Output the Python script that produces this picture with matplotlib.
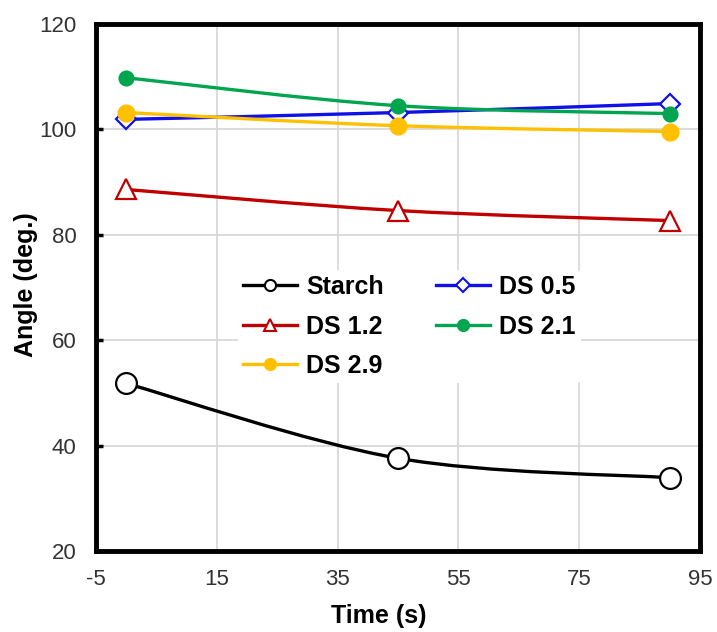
import matplotlib.pyplot as plt
import numpy as np
from matplotlib.path import Path
from matplotlib.patches import PathPatch

plt.rcParams['font.family'] = ['Liberation Sans', 'DejaVu Sans']
plt.rcParams['axes.unicode_minus'] = False

time_s = [0, 45, 90]
starch = [51.8, 37.6, 33.9]
ds05 = [101.9, 103.2, 104.9]
ds12 = [88.6, 84.6, 82.7]
ds21 = [109.8, 104.5, 103.0]
ds29 = [103.2, 100.7, 99.6]


def smooth_path(x, y):
    # Excel-like smoothed line via cubic Bezier segments
    pts = np.column_stack([x, y]).astype(float)
    n = len(pts)
    verts = [pts[0]]
    codes = [Path.MOVETO]
    for i in range(n - 1):
        p0 = pts[i - 1] if i > 0 else pts[i]
        p1 = pts[i]
        p2 = pts[i + 1]
        p3 = pts[i + 2] if i + 2 < n else pts[i + 1]
        c1 = p1 + (p2 - p0) / 6.0
        c2 = p2 - (p3 - p1) / 6.0
        verts += [c1, c2, p2]
        codes += [Path.CURVE4] * 3
    return Path(verts, codes)


fig = plt.figure(figsize=(7.17, 6.32), dpi=100)
ax = fig.add_axes([96 / 717, 81 / 632, 604 / 717, 527 / 632])

series = [
    ('Starch', starch, 'black', 'o', 'white', 15, 8),
    ('DS 0.5', ds05, '#1010E8', 'D', 'white', 10, 7),
    ('DS 1.2', ds12, '#C00000', '^', 'white', 15, 8),
    ('DS 2.1', ds21, '#00A550', 'o', '#00A550', 10, 8),
    ('DS 2.9', ds29, '#FFC000', 'o', '#FFC000', 11.5, 8),
]

handles = {}
for name, vals, col, mk, fc, ms, lms in series:
    ax.add_patch(PathPatch(smooth_path(time_s, vals), fill=False,
                           edgecolor=col, lw=2.4, zorder=3))
    ax.plot(time_s, vals, ls='none', marker=mk, ms=ms, mfc=fc,
            mec=col, mew=1.6, zorder=4)
    lh, = ax.plot([], [], color=col, lw=2.4, marker=mk, ms=lms,
                  mfc=fc, mec=col, mew=1.5)
    handles[name] = lh

ax.set_xlim(-5, 95)
ax.set_ylim(20, 120)
ax.set_xticks([-5, 15, 35, 55, 75, 95])
ax.set_yticks([20, 40, 60, 80, 100, 120])
ax.grid(True, color='#d9d9d9', lw=1.3, zorder=0)
ax.set_axisbelow(True)
for s in ax.spines.values():
    s.set_linewidth(3.5)
    s.set_color('black')
ax.tick_params(axis='y', direction='in', length=5, width=2.5, labelsize=16,
               colors='black', labelcolor='#333333', pad=14)
ax.tick_params(axis='x', direction='in', length=0, labelsize=16,
               labelcolor='#333333', pad=13)

ax.set_xlabel('Time (s)', fontsize=18, fontweight='bold')
ax.xaxis.set_label_coords(0.468, -0.100)
ax.set_ylabel('Angle (deg.)', fontsize=18, fontweight='bold')
ax.yaxis.set_label_coords(-0.096, 0.505)

order = ['Starch', 'DS 1.2', 'DS 2.9', 'DS 0.5', 'DS 2.1']
leg = ax.legend([handles[k] for k in order], order, ncol=2,
                loc='upper left', bbox_to_anchor=(0.235, 0.533),
                borderaxespad=0,
                prop={'weight': 'bold', 'size': 18}, frameon=True,
                facecolor='white', edgecolor='none', framealpha=1,
                handlelength=2.16, handletextpad=0.36, columnspacing=2.1,
                labelspacing=0.62, borderpad=0.2)
leg.set_zorder(5)

fig.savefig('out.png', dpi=100)
